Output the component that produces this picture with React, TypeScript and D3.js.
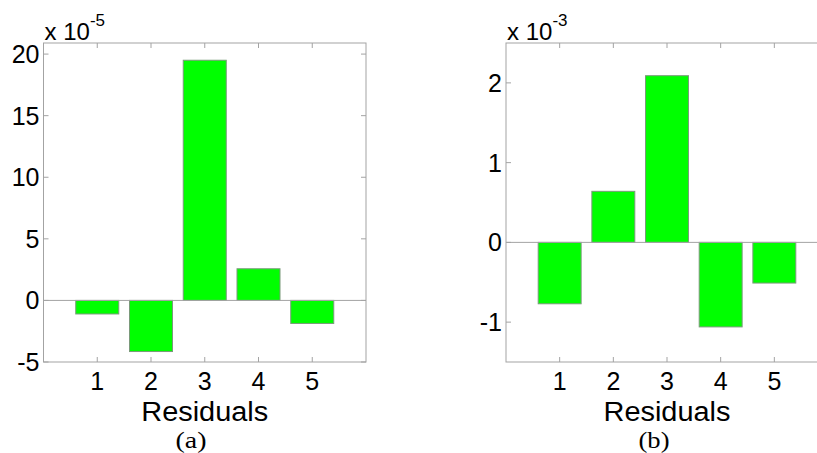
import React from "react";
import * as d3 from "d3";

// bar positions and values
const categories = [1, 2, 3, 4, 5];
const residualsA = [-1.1, -4.15, 19.5, 2.57, -1.87]; // x 10^-5
const residualsB = [-0.77, 0.64, 2.09, -1.06, -0.51]; // x 10^-3
const yTicksA = [-5, 0, 5, 10, 15, 20];
const yTicksB = [-1, 0, 1, 2];
const xLabel = "Residuals";

const AXIS = "#a3a3a3";
const SANS = "'Liberation Sans', Arial, Helvetica, sans-serif";
const SERIF = "'Liberation Serif', 'Times New Roman', serif";

const Panel = ({ values, yTicks, yDomain, left, right, exponent, caption, captionX }) => {
  const top = 43;
  const bottom = 362;
  const x = d3.scaleLinear().domain([0, 6]).range([left, right]);
  const y = d3.scaleLinear().domain(yDomain).range([bottom, top]);
  const bw = x(0.8) - x(0);
  const tick = 5;
  const cx = (x(0) + x(6)) / 2;

  return (
    <g>
      {/* bars */}
      {values.map((v, i) => (
        <rect
          key={i}
          x={x(categories[i]) - bw / 2}
          y={Math.min(y(v), y(0))}
          width={bw}
          height={Math.abs(y(v) - y(0))}
          fill="#00ff00"
          stroke="#7a9a7a"
          strokeWidth={1}
        />
      ))}
      {/* zero line */}
      <line x1={x(0)} x2={x(6)} y1={y(0)} y2={y(0)} stroke={AXIS} strokeWidth={1} />
      {/* box */}
      <rect x={x(0)} y={top} width={x(6) - x(0)} height={bottom - top} fill="none" stroke={AXIS} strokeWidth={1} />
      {/* y ticks */}
      {yTicks.map((t) => (
        <g key={t}>
          <line x1={x(0)} x2={x(0) + tick} y1={y(t)} y2={y(t)} stroke={AXIS} />
          <line x1={x(6)} x2={x(6) - tick} y1={y(t)} y2={y(t)} stroke={AXIS} />
          <text
            x={x(0) - 4}
            y={y(t)}
            dy="0.36em"
            textAnchor="end"
            fontFamily={SANS}
            fontSize={25}
            fill="#000"
          >
            {t}
          </text>
        </g>
      ))}
      {/* x ticks */}
      {categories.map((c) => (
        <g key={c}>
          <line x1={x(c)} x2={x(c)} y1={bottom} y2={bottom - tick} stroke={AXIS} />
          <line x1={x(c)} x2={x(c)} y1={top} y2={top + tick} stroke={AXIS} />
          <text x={x(c)} y={390} textAnchor="middle" fontFamily={SANS} fontSize={25} fill="#000">
            {c}
          </text>
        </g>
      ))}
      {/* exponent */}
      <text x={x(0) + 1} y={40} fontFamily={SANS} fontSize={24} fill="#000">
        x 10
        <tspan dy={-14} fontSize={17}>
          {exponent}
        </tspan>
      </text>
      <text
        x={cx}
        y={421}
        textAnchor="middle"
        fontFamily={SANS}
        fontSize={27}
        textLength={127}
        lengthAdjust="spacingAndGlyphs"
        fill="#000"
      >
        {xLabel}
      </text>
      <text
        x={captionX}
        y={448}
        textAnchor="middle"
        fontFamily={SERIF}
        fontSize={24}
        textLength={31}
        lengthAdjust="spacingAndGlyphs"
        fill="#000"
      >
        {caption}
      </text>
    </g>
  );
};

export default function App() {
  return (
    <svg
      width={817}
      height={453}
      style={{ position: "absolute", left: 0, top: 0, background: "#fff" }}
    >
      <Panel
        values={residualsA}
        yTicks={yTicksA}
        yDomain={[-5, 20.9]}
        left={43.5}
        right={366}
        exponent="-5"
        caption="(a)"
        captionX={191}
      />
      <Panel
        values={residualsB}
        yTicks={yTicksB}
        yDomain={[-1.5, 2.5]}
        left={506}
        right={828}
        exponent="-3"
        caption="(b)"
        captionX={654}
      />
    </svg>
  );
}
